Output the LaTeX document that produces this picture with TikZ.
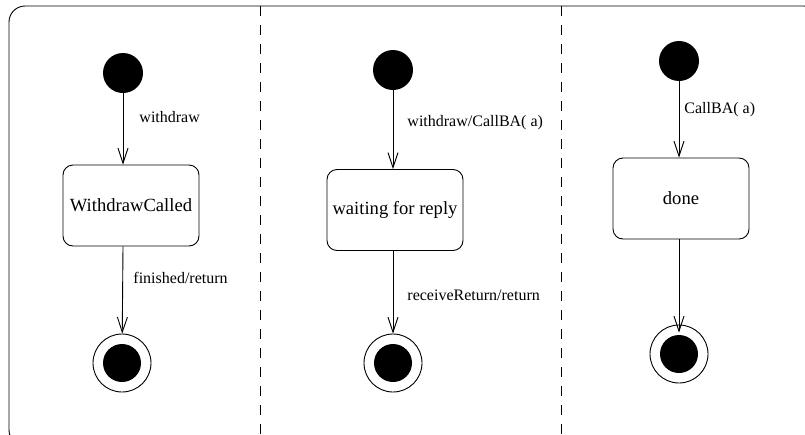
\documentclass[tikz,border=0pt]{standalone}
\usepackage{fontspec}
\setmainfont{Liberation Serif}
\usetikzlibrary{arrows.meta}
\begin{document}
\begin{tikzpicture}[x=1pt,y=-1pt,line width=0.9pt,
  initst/.style={circle,fill=black,minimum size=40pt,inner sep=0pt},
  finalst/.style={circle,draw,minimum size=58pt,inner sep=0pt},
  statebox/.style={draw,rounded corners=10pt,minimum width=136pt,minimum height=81pt,inner sep=0pt,font=\fontsize{18.6}{22}\selectfont},
  lbl/.style={anchor=west,inner sep=0pt,font=\fontsize{16}{19}\selectfont},
  arr/.style={-{Straight Barb[length=15pt,width=10pt]}},
  lane/.style={dash pattern=on 10pt off 9pt}]
\useasboundingbox (0,0) rectangle (805,434);
\clip (0,0) rectangle (805,434);
\draw[rounded corners=16pt] (9,6) rectangle (820,446);
\coordinate (d1t) at (260,6);
\coordinate (d1b) at (260,434);
\coordinate (d2t) at (561,6);
\coordinate (d2b) at (561,434);
\draw[lane] (d1t) -- (d1b);
\draw[lane] (d2t) -- (d2b);
% column 1
\node[initst] (i1) at (123,73) {};
\node[statebox] (s1) at (131,205.5) {WithdrawCalled};
\node[finalst] (f1) at (122,363) {};
\fill (f1.center) circle (19);
\draw[arr] (i1) -- (i1 |- s1.north);
\draw[arr] (i1 |- s1.south) -- (f1);
\node[lbl] (l1) at (139,117) {withdraw};
\node[lbl] (l2) at (133,278) {finished/return};
% column 2
\node[initst] (i2) at (393,70) {};
\node[statebox] (s2) at (395,210) {waiting for reply};
\node[finalst] (f2) at (393,363) {};
\fill (f2.center) circle (19);
\draw[arr] (i2) -- (i2 |- s2.north);
\draw[arr] (i2 |- s2.south) -- (f2);
\node[lbl] (l3) at (407,123) {withdraw/CallBA( a)};
\node[lbl] (l4) at (407,295) {receiveReturn/return};
% column 3
\node[initst] (i3) at (679,61) {};
\node[statebox] (s3) at (681,198.5) {done};
\node[finalst] (f3) at (679,354) {};
\fill (f3.center) circle (19);
\draw[arr] (i3) -- (i3 |- s3.north);
\draw[arr,shorten >=-8pt] (i3 |- s3.south) -- (f3);
\node[lbl] (l5) at (684,110) {CallBA( a)};
\end{tikzpicture}
\end{document}
